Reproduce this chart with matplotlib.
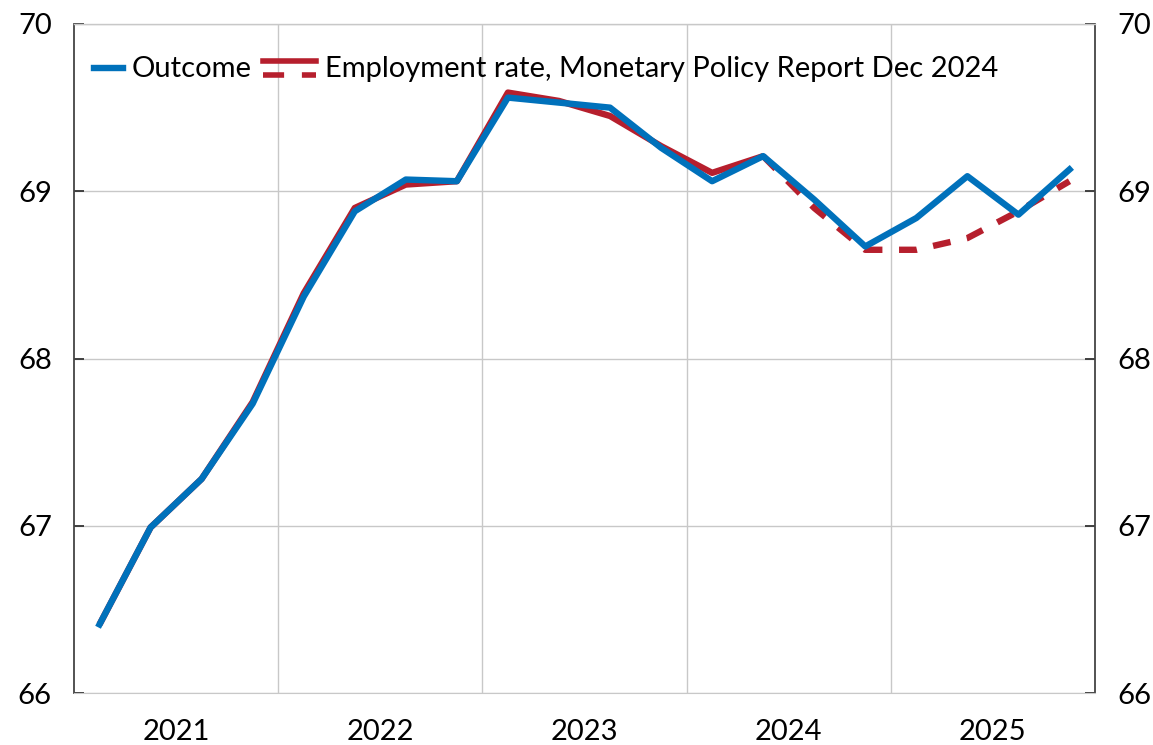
import numpy as np
import matplotlib
matplotlib.use("Agg")
import matplotlib.pyplot as plt
from matplotlib.lines import Line2D
from matplotlib.legend_handler import HandlerBase

plt.rcParams['font.family'] = ['Lato', 'DejaVu Sans']

# quarterly, 2021Q1 .. 2025Q4
quarters = [f"{y}Q{q}" for y in range(2021, 2026) for q in range(1, 5)]
outcome = [66.41, 66.99, 67.28, 67.73, 68.37, 68.88, 69.07, 69.06,
           69.56, 69.53, 69.50, 69.26, 69.06, 69.21, 68.95, 68.67,
           68.84, 69.09, 68.86, 69.13]
mpr_hist = [66.41, 66.99, 67.28, 67.74, 68.39, 68.90, 69.04, 69.06,
            69.59, 69.54, 69.45, 69.27, 69.11, 69.21]
mpr_proj = [69.21, 68.90, 68.65, 68.65, 68.72, 68.88, 69.06]
years = [2021, 2022, 2023, 2024, 2025]

blue = '#0071BB'
red = '#B61F2D'
fs = 21

x = 2021 + np.arange(len(quarters)) / 4 + 0.125
xh = x[:len(mpr_hist)]
xp = x[len(mpr_hist) - 1:]

fig = plt.figure(figsize=(11.53, 7.45), dpi=100)
ax = fig.add_axes([74 / 1153, 1 - 693 / 745, 1021 / 1153, 669 / 745])

ax.plot(xh, mpr_hist, color=red, lw=4.6, solid_capstyle='butt', zorder=3)
ax.plot(xp, mpr_proj, color=red, lw=4.6, dashes=(2.8, 2.6), zorder=3)
ax.plot(x, outcome, color=blue, lw=4.6, zorder=4)

ax.set_xlim(2021, 2026)
ax.set_ylim(66, 70)
ax.set_yticks([66, 67, 68, 69, 70])
ax.set_xticks([2022, 2023, 2024, 2025])
ax.set_xticklabels([])
ax.set_xticks([y + 0.5 for y in years], minor=True)
ax.set_xticklabels([str(y) for y in years], minor=True)
ax.tick_params(axis='x', which='both', length=0, labelsize=fs, pad=19)
ax.tick_params(axis='y', length=7, width=1.3, direction='in', labelsize=fs,
               color='#333333', left=True, right=True, labelleft=True,
               labelright=True, pad=16)
ax.grid(True, which='major', color='#c8c8c8', lw=1.0)
ax.set_axisbelow(True)

for s in ['left', 'right']:
    ax.spines[s].set_color('#444444')
    ax.spines[s].set_linewidth(1.3)
ax.spines['bottom'].set_color('#c8c8c8')
ax.spines['top'].set_color('#c8c8c8')
ax.spines['top'].set_linewidth(1.0)


class Outcome(HandlerBase):
    def create_artists(self, legend, orig, xd, yd, w, h, fs, trans):
        return [Line2D([xd + w * 0.45, xd + w], [yd + h * 0.45, yd + h * 0.45],
                       color=blue, lw=4.6, transform=trans)]


class TwoLine(HandlerBase):
    def create_artists(self, legend, orig, xd, yd, w, h, fs, trans):
        a = Line2D([xd, xd + w], [yd + h * 0.8, yd + h * 0.8], color=red, lw=4.0,
                   transform=trans)
        b = Line2D([xd, xd + w], [yd + h * 0.1, yd + h * 0.1], color=red, lw=4.0,
                   dashes=(3.8, 3.2), transform=trans)
        return [a, b]


ax.legend([0, 'mpr'],
          ['Outcome', 'Employment rate, Monetary Policy Report Dec 2024'],
          handler_map={int: Outcome(), str: TwoLine()}, loc='upper left',
          bbox_to_anchor=(-0.016, 0.969), frameon=False, fontsize=fs,
          handlelength=1.85, handletextpad=0.28, columnspacing=0.38, ncol=2,
          borderaxespad=0.0)

fig.savefig('out.png', dpi=100)
